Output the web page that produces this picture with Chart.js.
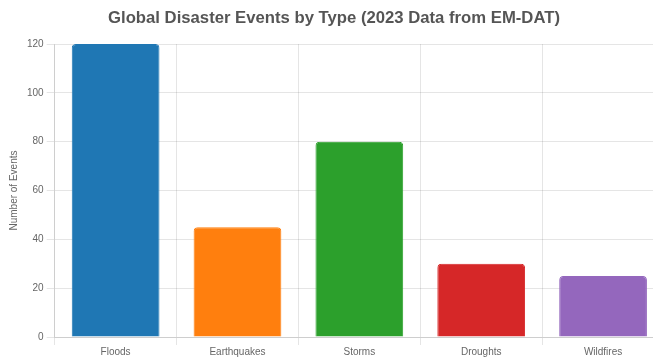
<!DOCTYPE html>
<html>
<head>
<meta charset="utf-8">
<script src="https://cdn.jsdelivr.net/npm/chart.js@4.4.0/dist/chart.umd.min.js"></script>
<style>
  html, body { margin: 0; padding: 0; background: #fff; overflow: hidden; }
  #wrap { position: relative; width: 674px; height: 359px; }
</style>
</head>
<body>
<div id="wrap"><canvas id="chart"></canvas></div>
<script>
// Disaster categories and 2023 event counts
const disasterTypes = ['Floods', 'Earthquakes', 'Storms', 'Droughts', 'Wildfires'];
const eventCounts = [120, 45, 80, 30, 25];
const barColors = ['#1f77b4', '#ff7f0e', '#2ca02c', '#d62728', '#9467bd'];

const fontFamily = '"Liberation Sans", Arial, Helvetica, sans-serif';

new Chart(document.getElementById('chart'), {
  type: 'bar',
  data: {
    labels: disasterTypes,
    datasets: [{
      label: 'Events',
      data: eventCounts,
      backgroundColor: barColors,
      borderColor: barColors,
      borderWidth: 1,
      borderRadius: 4
    }]
  },
  options: {
    responsive: true,
    maintainAspectRatio: false,
    animation: false,
    layout: { padding: { left: 4, right: 10, top: 0, bottom: 0 } },
    plugins: {
      legend: { display: false },
      title: {
        display: true,
        text: 'Global Disaster Events by Type (2023 Data from EM-DAT)',
        color: '#555',
        font: { family: fontFamily, size: 16.7, weight: 'bold' },
        padding: { top: 8, bottom: 16 }
      },
      tooltip: { enabled: false }
    },
    scales: {
      x: {
        ticks: { color: '#666', padding: 1, font: { family: fontFamily, size: 10 } },
        grid: { color: 'rgba(0,0,0,0.1)' }
      },
      y: {
        beginAtZero: true,
        max: 120,
        ticks: { stepSize: 20, color: '#666', font: { family: fontFamily, size: 10 } },
        grid: { color: 'rgba(0,0,0,0.1)' },
        title: {
          display: true,
          text: 'Number of Events',
          color: '#666',
          font: { family: fontFamily, size: 10 }
        }
      }
    }
  }
});
</script>
</body>
</html>
